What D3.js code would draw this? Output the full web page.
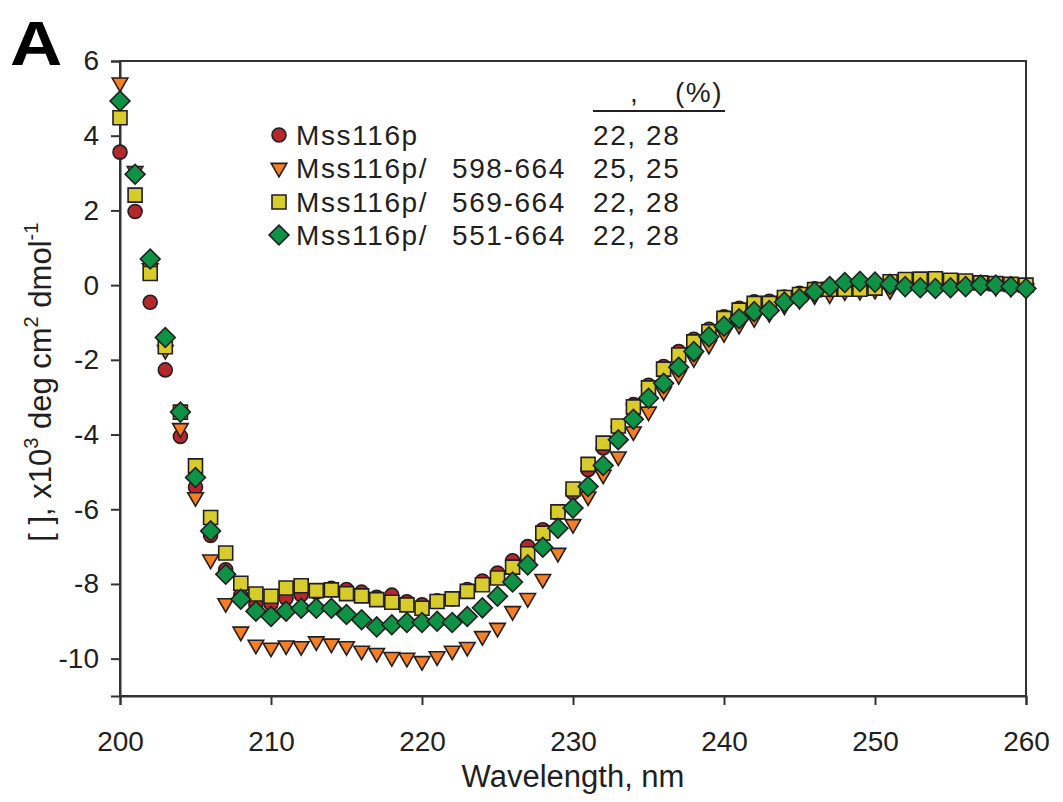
<!DOCTYPE html>
<html>
<head>
<meta charset="utf-8">
<script src="https://cdn.jsdelivr.net/npm/d3@7"></script>
<style>
  html, body { margin: 0; padding: 0; background: #fff; }
  svg { display: block; font-family: "Liberation Sans", Arial, sans-serif; }
</style>
</head>
<body>
<div id="chart"></div>
<script>
const wavelengths = d3.range(200, 261);

// Mss116p (circles)
const fullLength = [3.56, 1.97, -0.46, -2.27, -4.05, -5.41, -6.70, -7.62, -8.31, -8.56,
  -8.53, -8.38, -8.29, -8.22, -8.12, -8.15, -8.22, -8.36, -8.30, -8.48,
  -8.56, -8.45, -8.40, -8.15, -7.92, -7.71, -7.38, -7.00, -6.55, -6.10,
  -5.56, -4.94, -4.36, -3.80, -3.20, -2.68, -2.18, -1.78, -1.45, -1.18,
  -0.85, -0.62, -0.45, -0.43, -0.32, -0.22, -0.10, -0.06, -0.06, -0.05,
  -0.03, 0.05, 0.10, 0.10, 0.12, 0.08, 0.06, 0.03, 0.02, 0.00, -0.02];

// Mss116p/ 598-664 (down triangles)
const del598 = [5.42, 3.05, 0.45, -1.74, -3.83, -5.68, -7.35, -8.52, -9.28, -9.63,
  -9.71, -9.65, -9.67, -9.54, -9.60, -9.67, -9.79, -9.85, -9.96, -9.98,
  -10.07, -9.94, -9.79, -9.69, -9.40, -9.18, -8.73, -8.38, -7.87, -7.17,
  -6.40, -5.66, -5.08, -4.59, -3.92, -3.39, -2.85, -2.41, -1.96, -1.60,
  -1.29, -1.07, -0.89, -0.75, -0.55, -0.40, -0.28, -0.25, -0.17, -0.16,
  -0.13, -0.14, -0.05, 0.00, 0.02, 0.00, -0.02, -0.02, -0.05, -0.07, -0.10];

// Mss116p/ 569-664 (squares)
const del569 = [4.48, 2.41, 0.31, -1.65, -3.40, -4.84, -6.22, -7.17, -7.98, -8.27,
  -8.33, -8.11, -8.05, -8.18, -8.16, -8.26, -8.32, -8.42, -8.49, -8.56,
  -8.65, -8.47, -8.40, -8.20, -8.02, -7.84, -7.55, -7.19, -6.64, -6.07,
  -5.46, -4.80, -4.23, -3.77, -3.26, -2.75, -2.25, -1.87, -1.52, -1.25,
  -0.89, -0.67, -0.49, -0.49, -0.33, -0.25, -0.12, -0.11, -0.11, -0.11,
  -0.08, 0.09, 0.15, 0.16, 0.17, 0.13, 0.11, 0.06, 0.04, 0.02, 0.00];

// Mss116p/ 551-664 (diamonds)
const del551 = [4.93, 2.97, 0.70, -1.40, -3.40, -5.15, -6.58, -7.74, -8.41, -8.73,
  -8.87, -8.73, -8.65, -8.65, -8.65, -8.82, -8.96, -9.15, -9.09, -9.03,
  -9.03, -9.00, -9.03, -8.87, -8.64, -8.33, -7.95, -7.49, -7.02, -6.51,
  -5.97, -5.39, -4.83, -4.14, -3.59, -3.03, -2.63, -2.20, -1.78, -1.38,
  -1.10, -0.90, -0.71, -0.68, -0.45, -0.36, -0.18, -0.04, 0.07, 0.10,
  0.08, 0.02, -0.04, -0.07, -0.09, -0.07, -0.04, 0.00, 0.00, -0.04, -0.09];

const seriesNames = ["Mss116p", "Mss116p/", "Mss116p/", "Mss116p/"];
const seriesRanges = ["", "598-664", "569-664", "551-664"];
const seriesPercent = ["22, 28", "25, 25", "22, 28", "22, 28"];
const xTicks = [200, 210, 220, 230, 240, 250, 260];
const yTicks = [6, 4, 2, 0, -2, -4, -6, -8, -10];

const series = [
  { values: fullLength, shape: "circle", color: "#b3282d" },
  { values: del598, shape: "triangle", color: "#f47f24" },
  { values: del569, shape: "square", color: "#d8cc2a" },
  { values: del551, shape: "diamond", color: "#0e9346" }
];

const width = 1063;
const height = 802;
const margin = { top: 61, right: 37, bottom: 106, left: 120 };
const innerW = width - margin.left - margin.right;
const innerH = height - margin.top - margin.bottom;

const svg = d3.select("#chart")
  .append("svg")
  .attr("width", width)
  .attr("height", height);

const x = d3.scaleLinear().domain([200, 260]).range([margin.left, margin.left + innerW]);
const y = d3.scaleLinear().domain([-11, 6]).range([margin.top + innerH, margin.top]);

const ink = "#231f20";

function markerPath(shape) {
  if (shape === "circle") return d3.symbol(d3.symbolCircle, 154)();
  if (shape === "square") return d3.symbol(d3.symbolSquare, 196)();
  if (shape === "diamond") return d3.symbol(d3.symbolSquare, 196)();
  return "M-7.8,-4.6L7.8,-4.6L0,8.9Z";
}

function markerTransform(shape, px, py) {
  if (shape === "diamond") return `translate(${px},${py}) rotate(45)`;
  return `translate(${px},${py})`;
}

// frame
svg.append("rect")
  .attr("x", margin.left)
  .attr("y", margin.top)
  .attr("width", innerW)
  .attr("height", innerH)
  .attr("fill", "none")
  .attr("stroke", "#333")
  .attr("stroke-width", 2);

const xAxis = svg.append("g")
  .attr("transform", `translate(0,${margin.top + innerH})`)
  .call(d3.axisBottom(x).tickValues(xTicks).tickSize(9).tickPadding(36));

const yAxis = svg.append("g")
  .attr("transform", `translate(${margin.left},0)`)
  .call(d3.axisLeft(y).tickValues(yTicks).tickSize(9).tickPadding(12)
    .tickFormat(d => String(d)));

[xAxis, yAxis].forEach(g => {
  g.select(".domain").attr("stroke", "#333").attr("stroke-width", 2);
  g.selectAll(".tick line").attr("stroke", "#333").attr("stroke-width", 2);
  g.selectAll(".tick text")
    .attr("fill", ink)
    .style("font-size", "28px")
    .style("font-family", "'Liberation Sans', Arial, sans-serif");
});
xAxis.selectAll(".tick text").attr("dy", "0.35em");

// data points
series.forEach(s => {
  svg.append("g")
    .selectAll("path")
    .data(wavelengths.map((w, i) => [w, s.values[i]]))
    .join("path")
    .attr("d", markerPath(s.shape))
    .attr("transform", d => markerTransform(s.shape, x(d[0]), y(d[1])))
    .attr("fill", s.color)
    .attr("stroke", ink)
    .attr("stroke-width", 1.6);
});

// legend
const legend = svg.append("g");
const rowY = [135, 168, 202, 235];
series.forEach((s, i) => {
  legend.append("path")
    .attr("d", markerPath(s.shape))
    .attr("transform", markerTransform(s.shape, 279, rowY[i]))
    .attr("fill", s.color)
    .attr("stroke", ink)
    .attr("stroke-width", 1.6);
  [[296, seriesNames[i]], [452, seriesRanges[i]], [593, seriesPercent[i]]].forEach(([tx, t]) => {
    legend.append("text")
      .attr("x", tx)
      .attr("y", rowY[i] + 10)
      .attr("fill", ink)
      .style("font-size", "28px")
      .style("letter-spacing", "1.6px")
      .text(t);
  });
});

legend.append("text")
  .attr("x", 630)
  .attr("y", 102)
  .attr("fill", ink)
  .style("font-size", "28px")
  .text(",");
legend.append("text")
  .attr("x", 675)
  .attr("y", 102)
  .attr("fill", ink)
  .style("font-size", "28px")
  .style("letter-spacing", "1.5px")
  .text("(%)");
legend.append("line")
  .attr("x1", 593)
  .attr("x2", 725)
  .attr("y1", 111)
  .attr("y2", 111)
  .attr("stroke", ink)
  .attr("stroke-width", 2);

// axis titles
svg.append("text")
  .attr("x", x(230))
  .attr("y", 787)
  .attr("text-anchor", "middle")
  .attr("fill", ink)
  .style("font-size", "31px")
  .text("Wavelength, nm");

const yTitle = svg.append("text")
  .attr("transform", `translate(51,${y(-2.6)}) rotate(-90)`)
  .attr("text-anchor", "middle")
  .attr("fill", ink)
  .style("font-size", "31px");
yTitle.append("tspan").text("[ ], x10");
yTitle.append("tspan").attr("dy", -13).style("font-size", "20px").text("3");
yTitle.append("tspan").attr("dy", 13).text(" deg cm");
yTitle.append("tspan").attr("dy", -13).style("font-size", "20px").text("2");
yTitle.append("tspan").attr("dy", 13).text(" dmol");
yTitle.append("tspan").attr("dy", -13).style("font-size", "20px").text("-1");

// panel letter
svg.append("text")
  .attr("transform", "translate(10,65) scale(1.15,1)")
  .attr("fill", "#000")
  .style("font-size", "63px")
  .style("font-weight", "bold")
  .text("A");
</script>
</body>
</html>
